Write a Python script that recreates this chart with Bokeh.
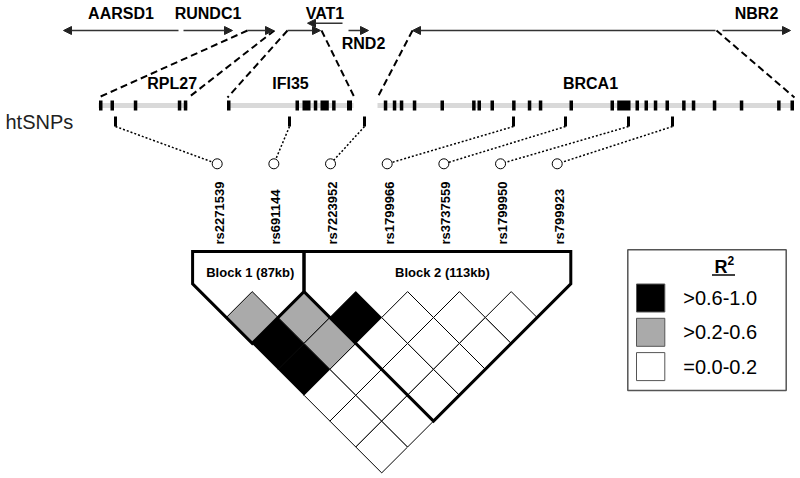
import math
from bokeh.plotting import figure
from bokeh.models import Range1d, ColumnDataSource, Arrow, NormalHead
from bokeh.core.properties import value
from bokeh.embed import file_html
from bokeh.resources import INLINE

# ---------------- data ----------------
gene_names = ["AARSD1", "RUNDC1", "RPL27", "IFI35", "VAT1", "RND2", "BRCA1", "NBR2"]
gene_left = [63, 183, 247, 287, 307, 348, 412, 722]
gene_right = [178, 232, 273, 320, 342, 368, 715, 790]
gene_strand = [-1, 1, 1, 1, -1, 1, -1, 1]
gene_raised = [False, False, False, False, True, False, False, False]
gene_label = ["above", "above", None, None, "above", "below", None, "above"]

track_names = ["RPL27", "IFI35", "BRCA1"]
track_left = [98, 227, 377]
track_right = [187, 353, 793]
track_label_x = [171.7, 290, 590]

exon_start = [98.5, 110, 133.3, 177.3, 183.3,
              226.5, 295, 302, 313.3, 320, 331.6, 346.5,
              383.3, 392.3, 399.3, 412.3, 440, 471.6, 477, 490, 511.6, 527.3, 538.3,
              569, 610, 616.7, 635, 644, 653.3, 665, 681.6, 691.3, 712.3, 739.3,
              776.6, 790]
exon_end = [102, 113.5, 136.8, 180.8, 186.8,
            230, 298.5, 310, 316.8, 328.3, 335.1, 351.5,
            386.8, 395.8, 402.8, 415.8, 443.5, 475.1, 480.5, 493.5, 515.1, 530.8, 541.8,
            572.5, 613.5, 630, 638.5, 647.5, 656.8, 668.5, 685.1, 694.8, 715.8, 742.8,
            780.1, 793.5]

htsnp_pos = [115, 289, 364, 513, 565, 628, 672]
snp_names = ["rs2271539", "rs691144", "rs7223952", "rs1799966",
             "rs3737559", "rs1799950", "rs799923"]

# pairwise r^2 (upper triangle used)
ld_r2 = [
    [1.0, 0.40, 0.90, 0.85, 0.05, 0.04, 0.03],
    [0.0, 1.00, 0.35, 0.30, 0.08, 0.05, 0.04],
    [0.0, 0.00, 1.00, 0.80, 0.10, 0.06, 0.05],
    [0.0, 0.00, 0.00, 1.00, 0.12, 0.07, 0.05],
    [0.0, 0.00, 0.00, 0.00, 1.00, 0.10, 0.06],
    [0.0, 0.00, 0.00, 0.00, 0.00, 1.00, 0.09],
    [0.0, 0.00, 0.00, 0.00, 0.00, 0.00, 1.00],
]

block_names = ["Block 1 (87kb)", "Block 2 (113kb)"]
block_first = [0, 2]
block_last = [1, 6]

legend_labels = [">0.6-1.0", ">0.2-0.6", "=0.0-0.2"]
legend_colors = ["#000000", "#aaaaaa", "#ffffff"]

# ---------------- layout ----------------
FONT = value("Liberation Sans")
GENE_Y, RAISED_Y, TRACK_Y = 30, 22.7, 105
CONN_Y = 97
X0, H, YC = 225.8, 25.9, 317.0          # LD grid
BOX_TOP, PAD = 251, 33.7
CIRC_Y, CIRC_C, CIRC_STEP = 163.3, 386.7, 56.67

p = figure(width=800, height=478, x_range=Range1d(0, 800), y_range=Range1d(478, 0),
           output_backend="svg", toolbar_location=None, min_border=0,
           x_axis_type=None, y_axis_type=None)
p.grid.visible = False
p.outline_line_color = None
p.background_fill_color = "white"
p.border_fill_color = "white"

# gene arrows (top)
gx0, gx1, gy = [], [], []
for l, r, s, raised in zip(gene_left, gene_right, gene_strand, gene_raised):
    y = RAISED_Y if raised else GENE_Y
    if s > 0:
        gx0.append(l); gx1.append(r)
    else:
        gx0.append(r); gx1.append(l)
    gy.append(y)
asrc = ColumnDataSource(dict(x0=gx0, x1=gx1, y=gy))
p.add_layout(Arrow(x_start="x0", y_start="y", x_end="x1", y_end="y", source=asrc,
                   line_color="#333333", line_width=1.5,
                   end=NormalHead(size=8, fill_color="#222222", line_color="#222222", line_width=1)))

lx, ly, lt = [], [], []
for name, l, r, side in zip(gene_names, gene_left, gene_right, gene_label):
    if side is None:
        continue
    lx.append((l + r) / 2 + (5 if side == "below" else 0))
    ly.append(12.5 if side == "above" else 43)
    lt.append(name)
p.text(x=lx, y=ly, text=lt, text_font=FONT, text_font_style="bold", text_font_size="16px",
       text_align="center", text_baseline="middle", text_color="black")

# dashed connectors from genes to expanded tracks
dx0, dy0, dx1, dy1 = [], [], [], []
for name, tl, tr in zip(track_names, track_left, track_right):
    gi = gene_names.index(name)
    dx0 += [gene_left[gi], gene_right[gi] + 1]
    dy0 += [GENE_Y, GENE_Y]
    dx1 += [tl, tr + 1]
    dy1 += [CONN_Y, CONN_Y]
p.segment(x0=dx0, y0=dy0, x1=dx1, y1=dy1, line_color="black", line_width=2, line_dash="7 4")

# expanded tracks
p.segment(x0=track_left, y0=[TRACK_Y] * 3, x1=track_right, y1=[TRACK_Y] * 3,
          line_color="#d9d9d9", line_width=5)
p.quad(left=exon_start, right=exon_end, top=[TRACK_Y - 5] * len(exon_start),
       bottom=[TRACK_Y + 5] * len(exon_start), fill_color="black", line_color=None)
p.text(x=track_label_x, y=[83] * 3, text=track_names, text_font=FONT, text_font_style="bold",
       text_font_size="16px", text_align="center", text_baseline="middle", text_color="black")

p.text(x=[5], y=[121], text=["htSNPs"], text_font=FONT, text_font_size="20px",
       text_align="left", text_baseline="middle", text_color="#222222")

# htSNP ticks, dotted links, circles, labels
n = len(snp_names)
circ_x = [CIRC_C + (i - 3) * CIRC_STEP for i in range(n)]
p.quad(left=[x - 1.5 for x in htsnp_pos], right=[x + 1.5 for x in htsnp_pos],
       top=[116] * n, bottom=[126] * n, fill_color="black", line_color=None)
p.segment(x0=htsnp_pos, y0=[126] * n, x1=circ_x, y1=[CIRC_Y] * n,
          line_color="black", line_width=1.5, line_dash="2 2")
p.scatter(x=circ_x, y=[CIRC_Y] * n, size=10, marker="circle", fill_color="white",
          line_color="black", line_width=1)
p.text(x=[c + 2 for c in circ_x], y=[244] * n, text=snp_names, angle=math.pi / 2,
       text_font=FONT, text_font_style="bold", text_font_size="13px",
       text_align="left", text_baseline="middle", text_color="black")

# LD diamonds
def r2_color(v):
    if v > 0.6:
        return legend_colors[0]
    if v > 0.2:
        return legend_colors[1]
    return legend_colors[2]

xs, ys, cols = [], [], []
for i in range(n):
    for j in range(i + 1, n):
        cx = X0 + (i + j) * H
        cy = YC + (j - i - 1) * H
        xs.append([cx, cx + H, cx, cx - H])
        ys.append([cy - H, cy, cy + H, cy])
        cols.append(r2_color(ld_r2[i][j]))
p.patches(xs=xs, ys=ys, fill_color=cols, line_color="black", line_width=1)

# block outlines
snp_x = [X0 + 2 * H * i for i in range(n)]
bxs, bys, btx = [], [], []
for k, (f, l) in enumerate(zip(block_first, block_last)):
    L = snp_x[f] - PAD if k == 0 else (snp_x[f - 1] + snp_x[f]) / 2
    R = snp_x[l] + PAD if k == len(block_first) - 1 else (snp_x[l] + snp_x[l + 1]) / 2
    ax = X0 + (f + l) * H
    ay = YC + (l - f) * H
    yL = ay - (ax - L)
    yR = ay - (R - ax)
    bxs.append([L, R, R, ax, L, L])
    bys.append([BOX_TOP, BOX_TOP, yR, ay, yL, BOX_TOP])
    btx.append((L + R) / 2 + 2 + 3 * k)
p.patches(xs=bxs, ys=bys, fill_color=None, line_color="black", line_width=3, line_join="miter")
p.text(x=btx, y=[272] * len(btx), text=block_names, text_font=FONT, text_font_style="bold",
       text_font_size="13px", text_align="center", text_baseline="middle", text_color="black")

# legend
p.quad(left=[627.3], right=[785.7], top=[249.3], bottom=[390], fill_color="white",
       line_color="#555555", line_width=1.5)
p.text(x=[727], y=[266], text=["R"], text_font=FONT, text_font_style="bold",
       text_font_size="18px", text_align="right", text_baseline="middle", text_color="black")
p.text(x=[727], y=[260], text=["2"], text_font=FONT, text_font_style="bold",
       text_font_size="12px", text_align="left", text_baseline="middle", text_color="black")
p.segment(x0=[711.5], y0=[274.5], x1=[734.5], y1=[274.5], line_color="black", line_width=1.5)
ly0 = 297.5
lys = [ly0 + 34.3 * i for i in range(len(legend_labels))]
p.quad(left=[636] * 3, right=[664.3] * 3, top=[y - 14 for y in lys], bottom=[y + 14 for y in lys],
       fill_color=legend_colors, line_color="#555555", line_width=1)
p.text(x=[682.7] * 3, y=lys, text=legend_labels, text_font=FONT, text_font_size="20px",
       text_align="left", text_baseline="middle", text_color="black")

open("out.html", "w").write(file_html(p, INLINE))
